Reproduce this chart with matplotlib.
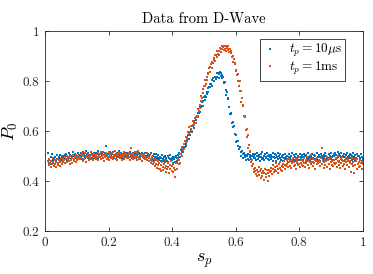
import numpy as np
import matplotlib
matplotlib.use("Agg")
import matplotlib.pyplot as plt

plt.rcParams["font.family"] = "serif"
plt.rcParams["font.serif"] = ["cmr10"]
plt.rcParams["mathtext.fontset"] = "cm"
plt.rcParams["axes.formatter.use_mathtext"] = True

# sweep parameter s_p, step 0.002 from 0.01 to 1
sp = np.round(np.arange(0.01, 1.0001, 0.002), 3)

# P0 for t_p = 10 us, in thousandths (25 per row of 0.05 in s_p)
p0_10us = [
    512, 470, 485, 466, 495, 478, 508, 472, 483, 490, 468, 497, 481, 476, 502, 487, 473, 494, 489, 505, 479, 498, 486, 492, 501,
    488, 503, 497, 509, 484, 500, 493, 512, 490, 498, 505, 486, 501, 495, 514, 489, 499, 507, 492, 503, 497, 485, 510, 496, 502,
    495, 511, 500, 489, 516, 503, 498, 508, 493, 518, 501, 506, 490, 512, 499, 504, 497, 515, 492, 507, 502, 488, 510, 500, 505,
    498, 512, 506, 493, 519, 503, 509, 496, 514, 501, 507, 490, 517, 504, 499, 511, 540, 502, 508, 495, 513, 506, 497, 516, 503,
    509, 497, 514, 503, 492, 518, 506, 500, 511, 494, 508, 502, 520, 498, 505, 513, 491, 507, 501, 515, 496, 510, 504, 499, 512,
    500, 511, 494, 506, 517, 498, 503, 490, 512, 505, 497, 509, 501, 493, 514, 502, 507, 496, 510, 499, 488, 506, 503, 513, 495,
    504, 492, 499, 510, 486, 501, 495, 507, 490, 498, 503, 484, 511, 494, 489, 500, 506, 482, 497, 491, 508, 495, 487, 502, 493,
    485, 497, 480, 492, 503, 478, 489, 495, 474, 500, 486, 491, 481, 498, 476, 493, 487, 505, 479, 490, 484, 496, 472, 488, 494,
    477, 498, 493, 481, 502, 513, 497, 507, 494, 522, 514, 532, 517, 536, 549, 534, 547, 540, 567, 561, 583, 567, 587, 583, 602,
    605, 595, 620, 620, 611, 641, 633, 657, 643, 659, 673, 660, 673, 695, 675, 700, 695, 715, 699, 721, 737, 725, 741, 734, 757,
    749, 770, 755, 776, 787, 774, 789, 778, 803, 812, 801, 798, 817, 815, 808, 831, 817, 832, 812, 829, 835, 819, 830, 812, 825,
    815, 790, 796, 794, 764, 744, 754, 730, 729, 696, 697, 666, 671, 666, 633, 636, 614, 619, 587, 587, 584, 555, 560, 559, 538,
    528, 536, 535, 514, 501, 518, 508, 493, 512, 494, 504, 482, 498, 504, 487, 507, 483, 495, 503, 488, 498, 482, 508, 492, 499,
    491, 507, 484, 498, 512, 489, 503, 495, 480, 509, 497, 486, 514, 493, 501, 482, 506, 496, 490, 510, 487, 499, 504, 483, 497,
    502, 488, 495, 510, 481, 497, 506, 490, 478, 503, 494, 512, 486, 499, 491, 507, 483, 496, 500, 479, 505, 492, 487, 509, 495,
    489, 501, 476, 496, 508, 485, 493, 499, 480, 511, 490, 484, 503, 495, 478, 506, 492, 487, 500, 482, 497, 509, 486, 494, 503,
    495, 482, 507, 490, 499, 478, 504, 493, 486, 512, 497, 481, 501, 489, 495, 508, 477, 492, 503, 487, 498, 484, 510, 491, 496,
    485, 502, 496, 480, 509, 491, 498, 487, 505, 494, 478, 513, 500, 489, 496, 483, 507, 492, 501, 486, 511, 495, 482, 499, 506,
    498, 510, 487, 503, 492, 516, 495, 481, 506, 499, 490, 512, 485, 501, 494, 508, 479, 497, 504, 488, 513, 496, 483, 500, 507,
    491, 505, 484, 498, 512, 489, 495, 480, 503, 493, 508, 486, 499, 474, 501, 490, 485, 506, 478, 494, 488,
]

# P0 for t_p = 1 ms, in thousandths
p0_1ms = [
    478, 462, 486, 471, 457, 481, 466, 490, 474, 460, 483, 469, 477, 455, 488, 472, 465, 484, 476, 461, 491, 479, 468, 486, 475,
    482, 470, 495, 486, 476, 501, 489, 478, 494, 467, 498, 484, 491, 473, 503, 488, 480, 496, 476, 505, 490, 483, 499, 487, 494,
    486, 503, 492, 510, 481, 498, 505, 489, 512, 494, 477, 501, 496, 508, 485, 499, 491, 514, 487, 503, 495, 482, 506, 497, 490,
    504, 489, 497, 512, 483, 501, 494, 508, 486, 515, 499, 491, 505, 478, 502, 496, 510, 488, 500, 493, 516, 484, 506, 498, 491,
    497, 511, 486, 503, 494, 518, 489, 500, 507, 482, 505, 496, 513, 490, 499, 508, 485, 502, 494, 515, 488, 504, 497, 509, 492,
    503, 490, 512, 497, 485, 506, 532, 494, 509, 488, 501, 515, 493, 498, 484, 510, 496, 520, 489, 503, 492, 507, 481, 499, 505,
    496, 508, 487, 500, 493, 511, 484, 497, 490, 479, 503, 486, 472, 494, 481, 466, 489, 475, 458, 484, 468, 452, 479, 463, 447,
    471, 448, 462, 439, 476, 455, 443, 468, 451, 482, 437, 460, 447, 473, 456, 432, 465, 449, 478, 441, 458, 434, 469, 452, 445,
    415, 470, 447, 471, 487, 468, 485, 473, 508, 509, 501, 536, 523, 546, 529, 560, 574, 557, 577, 567, 596, 588, 614, 594, 607,
    619, 601, 623, 638, 622, 632, 650, 630, 657, 659, 656, 688, 680, 704, 693, 721, 741, 733, 767, 752, 778, 780, 802, 788, 815,
    804, 830, 827, 851, 836, 854, 868, 850, 875, 870, 893, 884, 879, 904, 903, 894, 919, 907, 921, 905, 930, 916, 929, 939, 926,
    934, 923, 941, 929, 938, 921, 933, 940, 923, 928, 915, 927, 911, 920, 895, 898, 875, 886, 867, 872, 840, 845, 824, 827, 801,
    781, 798, 759, 759, 715, 731, 699, 702, 659, 658, 656, 603, 609, 576, 582, 533, 545, 514, 520, 477, 483, 458, 467, 435, 447,
    438, 452, 427, 444, 418, 435, 456, 424, 441, 412, 447, 430, 421, 439, 405, 433, 449, 426, 416, 442, 398, 431, 445, 419, 436,
    441, 452, 429, 447, 463, 436, 455, 444, 470, 438, 459, 449, 432, 466, 453, 474, 445, 461, 439, 468, 456, 478, 447, 464, 458,
    467, 482, 455, 474, 489, 461, 478, 451, 484, 470, 493, 459, 476, 465, 486, 448, 473, 480, 462, 495, 469, 457, 483, 472, 464,
    478, 461, 490, 470, 455, 484, 473, 497, 464, 481, 452, 476, 488, 467, 503, 474, 459, 486, 471, 482, 449, 479, 492, 466, 477,
    470, 485, 459, 477, 492, 531, 466, 481, 453, 474, 489, 462, 478, 496, 455, 483, 469, 487, 447, 475, 491, 463, 480, 458, 472,
    484, 467, 490, 473, 456, 481, 498, 463, 476, 451, 487, 470, 494, 460, 479, 466, 483, 448, 475, 491, 462, 478, 486, 457, 472,
    480, 437, 469, 492, 458, 475, 432, 486, 464, 478, 449, 489, 467, 474, 455, 483, 461, 471, 446, 477, 466,
]

x_ticks = [0, 0.2, 0.4, 0.6, 0.8, 1]
x_ticklabels = ["0", "0.2", "0.4", "0.6", "0.8", "1"]
y_ticks = [0.2, 0.4, 0.6, 0.8, 1]
y_ticklabels = ["0.2", "0.4", "0.6", "0.8", "1"]

blue = "#0072BD"
orange = "#D95319"

fig = plt.figure(figsize=(3.73, 2.74), dpi=100)
ax = fig.add_axes([0.1206, 0.157, 0.8525, 0.730])

ax.plot(sp, np.array(p0_10us) / 1000, ls="none", marker="s", ms=1.9, mew=0,
        color=blue, label=r"$t_p = 10\mu\mathrm{s}$")
ax.plot(sp, np.array(p0_1ms) / 1000, ls="none", marker="s", ms=1.9, mew=0,
        color=orange, label=r"$t_p = 1\mathrm{ms}$")

ax.set_xlim(0, 1)
ax.set_ylim(0.2, 1)
ax.set_xticks(x_ticks)
ax.set_xticklabels(x_ticklabels)
ax.set_yticks(y_ticks)
ax.set_yticklabels(y_ticklabels)
ax.tick_params(direction="in", length=3, width=0.6, top=True, right=True,
               labelsize=9.5, colors="#262626", pad=4)
for s in ax.spines.values():
    s.set_color("#262626")
    s.set_linewidth(0.6)

ax.set_title("Data from D-Wave", fontsize=10.5, pad=6)
ax.set_xlabel(r"$s_p$", fontsize=13, labelpad=2)
ax.set_ylabel(r"$P_0$", fontsize=13, labelpad=2)

leg = ax.legend(loc="upper right", bbox_to_anchor=(0.943, 0.96), borderaxespad=0,
                fontsize=9.5, markerscale=0.8, handlelength=1.0,
                fancybox=False, framealpha=1, edgecolor="#262626",
                borderpad=0.25, labelspacing=0.05, handletextpad=0.9)
leg.get_frame().set_linewidth(0.6)

fig.savefig("out.png", dpi=100)
